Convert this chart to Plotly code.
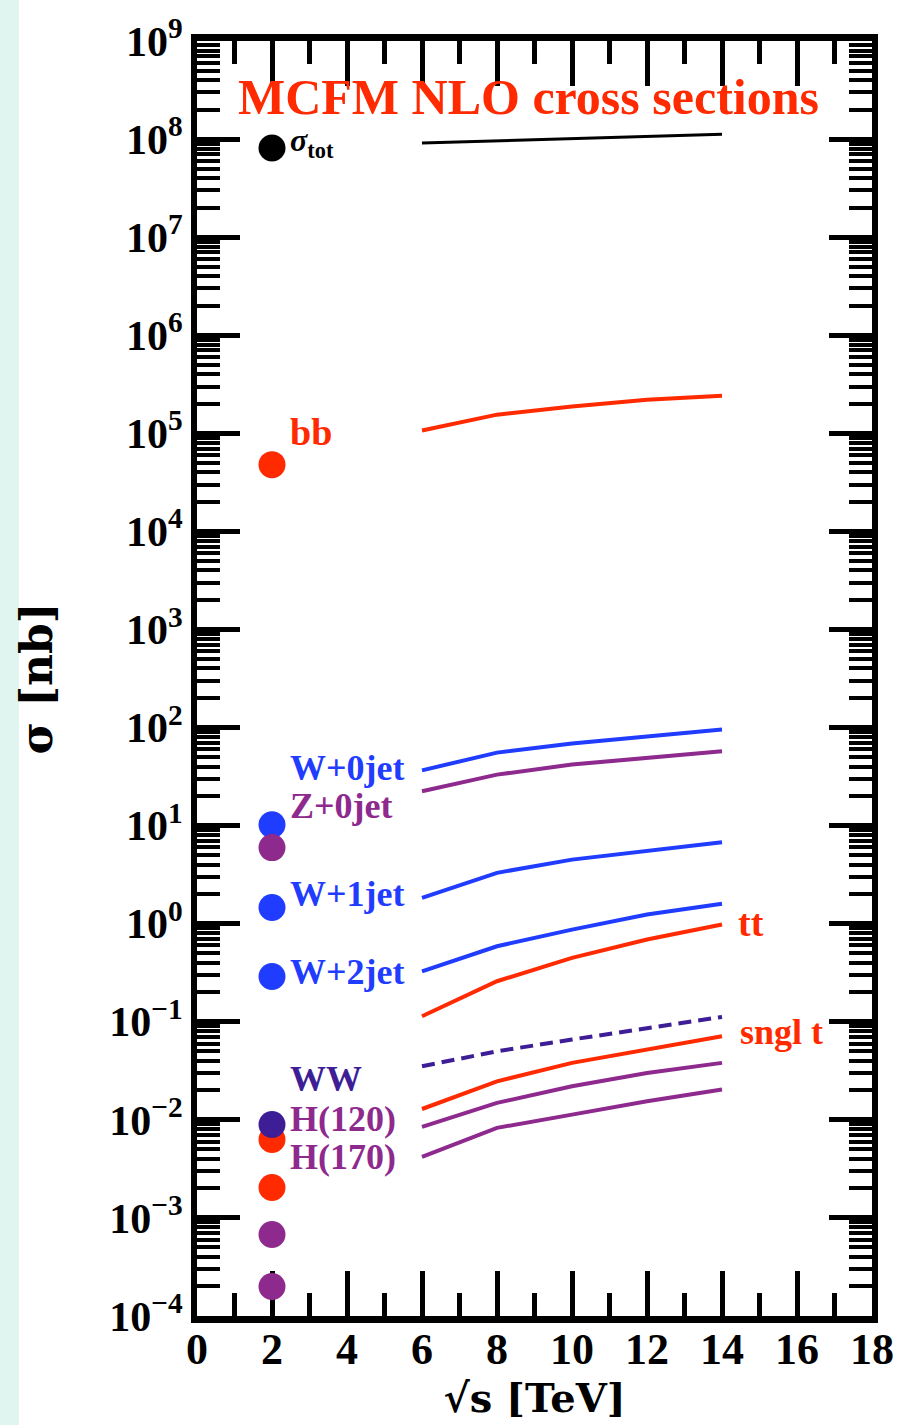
import math
import plotly.graph_objects as go

# ---- data: NLO cross sections in nb ----
TEV_ENERGY = 2.0                      # Tevatron point, sqrt(s) in TeV
LHC_ENERGIES = [6, 8, 10, 12, 14]     # sqrt(s) scan in TeV

PROCESS_NAMES = ["sigma_tot", "bb", "W+0jet", "Z+0jet", "W+1jet", "W+2jet",
                 "tt", "WW", "sngl t", "H(120)", "H(170)"]

TEV_XSEC = [8.1e7, 4.79e4, 10.2, 5.97, 1.46, 0.289,
            6.3e-3, 8.95e-3, 2.04e-3, 6.78e-4, 2.0e-4]

SIGMA_TOT = [9.1e7, 9.6e7, 1.01e8, 1.06e8, 1.12e8]
BB = [1.07e5, 1.55e5, 1.88e5, 2.2e5, 2.42e5]
W_0JET = [36.6, 55.5, 68.6, 80.8, 95.3]
Z_0JET = [22.4, 33.1, 41.9, 49.4, 57.2]
W_1JET = [1.83, 3.30, 4.50, 5.47, 6.76]
W_2JET = [0.327, 0.589, 0.871, 1.24, 1.60]
TTBAR = [0.114, 0.259, 0.448, 0.689, 0.98]
WW = [0.0352, 0.050, 0.0659, 0.0867, 0.112]
SINGLE_TOP = [0.0129, 0.0247, 0.0381, 0.0521, 0.0711]
H_120 = [0.00849, 0.0149, 0.0220, 0.0301, 0.0381]
H_170 = [0.0042, 0.00828, 0.0113, 0.0155, 0.0204]

X_TICKS = [0, 2, 4, 6, 8, 10, 12, 14, 16, 18]
Y_DECADES = list(range(-4, 10))

# ---- styling ----
BLACK = "#000000"
RED = "#FF2A00"
BLUE = "#1F3CFF"
PURPLE = "#8E2A8E"
INDIGO = "#3D1E96"

LHC_SERIES = [SIGMA_TOT, BB, W_0JET, Z_0JET, W_1JET, W_2JET,
              TTBAR, WW, SINGLE_TOP, H_120, H_170]
COLORS = [BLACK, RED, BLUE, PURPLE, BLUE, BLUE,
          RED, INDIGO, RED, PURPLE, PURPLE]
DASHES = ["solid"] * 7 + ["13px,7px"] + ["solid"] * 3
LINE_WIDTHS = [3] + [4] * 10

LABEL_FONT = "Liberation Serif"
TICK_FONT = "Liberation Serif"
TITLE_FONT = "DejaVu Serif"

fig = go.Figure()

# LHC energy scans
for name, ys, col, dash, lw in zip(PROCESS_NAMES, LHC_SERIES, COLORS, DASHES, LINE_WIDTHS):
    fig.add_trace(go.Scatter(
        x=LHC_ENERGIES, y=ys, mode="lines", name=name,
        line=dict(color=col, width=lw, dash=dash),
        showlegend=False, hoverinfo="skip"))

# Tevatron points
for name, val, col in zip(PROCESS_NAMES, TEV_XSEC, COLORS):
    fig.add_trace(go.Scatter(
        x=[TEV_ENERGY], y=[val], mode="markers", name=name + " (Tevatron)",
        marker=dict(color=col, size=27, line=dict(width=0)),
        showlegend=False, hoverinfo="skip"))

# process labels: (text, x, y in nb, colour, font size)
labels = [
    ("<i>σ</i><sub>tot</sub>", 2.43, 9.2e7, BLACK, 32),
    ("bb", 2.43, 1.02e5, RED, 38),
    ("W+0jet", 2.43, 39.0, BLUE, 36),
    ("Z+0jet", 2.43, 16.0, PURPLE, 36),
    ("W+1jet", 2.43, 2.0, BLUE, 36),
    ("W+2jet", 2.43, 0.32, BLUE, 36),
    ("WW", 2.43, 0.026, INDIGO, 36),
    ("H(120)", 2.43, 0.0103, PURPLE, 36),
    ("H(170)", 2.43, 0.0042, PURPLE, 36),
    ("tt", 14.37, 1.02, RED, 38),
    ("sngl t", 14.43, 0.078, RED, 36),
]
for text, x, y, col, size in labels:
    fig.add_annotation(
        x=x, y=math.log10(y), xref="x", yref="y", text=text, showarrow=False,
        xanchor="left", yanchor="middle",
        font=dict(family=LABEL_FONT, size=size, color=col, weight="bold"))

fig.add_annotation(
    x=8.83, y=math.log10(2.67e8), xref="x", yref="y",
    text="MCFM NLO cross sections", showarrow=False,
    xanchor="center", yanchor="middle",
    font=dict(family=LABEL_FONT, size=50, color=RED, weight="bold"))

# light strip along the left page edge
W, H = 913, 1425
ML, MR, MT, MB = 197, 41, 41, 109
pw, ph = W - ML - MR, H - MT - MB
fig.add_shape(type="rect", xref="paper", yref="paper",
              x0=-ML / pw, x1=(19 - ML) / pw,
              y0=-MB / ph, y1=1 + MT / ph,
              fillcolor="#E0F5EF", line=dict(width=0), layer="below")


def sup(p):
    return "10<sup>" + (("\u2212" + str(-p)) if p < 0 else str(p)) + "</sup>"


y_minor = [k * 10.0 ** p for p in Y_DECADES[:-1] for k in range(2, 10)]

fig.update_xaxes(
    range=[0, 18], showgrid=False, zeroline=False,
    showline=True, linewidth=7, linecolor=BLACK, mirror="allticks",
    tickmode="array", tickvals=X_TICKS, ticktext=[str(v) for v in X_TICKS],
    ticks="inside", ticklen=45, tickwidth=5, tickcolor=BLACK,
    ticklabelstandoff=-12,
    minor=dict(tickmode="array", tickvals=list(range(1, 18, 2)),
               ticks="inside", ticklen=23, tickwidth=5, tickcolor=BLACK,
               showgrid=False),
    tickfont=dict(family=TICK_FONT, size=44, color=BLACK, weight="bold"),
    title=dict(text="√s [TeV]", standoff=14,
               font=dict(family=TITLE_FONT, size=40, color=BLACK, weight="bold")),
    layer="below traces")

fig.update_yaxes(
    type="log", range=[-4, 9], showgrid=False, zeroline=False,
    showline=True, linewidth=6, linecolor=BLACK, mirror="allticks",
    tickmode="array", tickvals=[10.0 ** p for p in Y_DECADES],
    ticktext=[sup(p) for p in Y_DECADES],
    ticks="inside", ticklen=43, tickwidth=5, tickcolor=BLACK,
    minor=dict(tickmode="array", tickvals=y_minor,
               ticks="inside", ticklen=23, tickwidth=4, tickcolor=BLACK,
               showgrid=False),
    tickfont=dict(family=TICK_FONT, size=42, color=BLACK, weight="bold"),
    title=dict(text="σ [nb]", standoff=45,
               font=dict(family=TITLE_FONT, size=44, color=BLACK, weight="bold")),
    layer="below traces")

fig.update_layout(
    width=W, height=H,
    margin=dict(l=ML, r=MR, t=MT, b=MB, autoexpand=False),
    paper_bgcolor="white", plot_bgcolor="white",
    showlegend=False)

fig.write_html("out.html")
